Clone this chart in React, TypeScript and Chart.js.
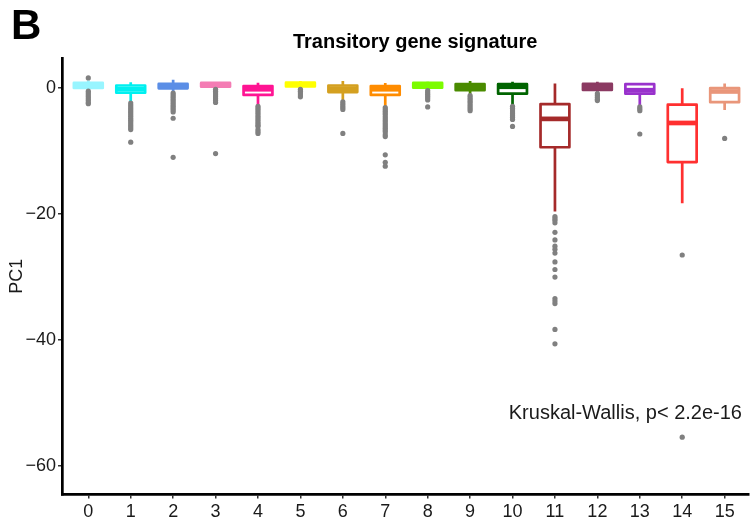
import React, { useEffect, useRef } from 'react';
import { Chart, registerables } from 'chart.js';

Chart.register(...registerables);

// ---------- data ----------
const categories = ['0', '1', '2', '3', '4', '5', '6', '7', '8', '9', '10', '11', '12', '13', '14', '15'];

const boxColors = [
  '#98F5FF', '#00F0F0', '#5B8EE6', '#F47CB4', '#FF1493', '#FFFF00', '#D4A020', '#FF8C00',
  '#7CFC00', '#4A8B00', '#006400', '#A52A2A', '#8B3A62', '#9932CC', '#FF3030', '#E9967A',
];

const whiskerHigh = [1.2, 0.9, 1.3, 0.95, 0.85, 1.1, 1.1, 0.8, 1.0, 1.1, 1.0, 0.7, 1.0, 0.8, -0.05, 0.7];
const q3 = [0.8, 0.4, 0.65, 0.8, 0.3, 0.85, 0.4, 0.3, 0.8, 0.6, 0.6, -2.55, 0.65, 0.6, -2.65, 0.0];
const medians = [0.4, -0.2, 0.3, 0.5, -0.2, 0.55, -0.1, -0.2, 0.45, 0.2, 0.2, -4.9, 0.2, -0.35, -5.55, -0.55];
const q1 = [0.0, -0.75, -0.05, 0.2, -1.1, 0.25, -0.65, -1.1, 0.05, -0.35, -0.9, -9.4, -0.3, -0.9, -11.75, -2.25];
const whiskerLow = [-0.3, -2.2, -0.6, 0.0, -2.7, 0.0, -2.0, -2.9, -0.2, -1.0, -2.7, -19.6, -0.7, -2.9, -18.3, -3.5];

const outliers: number[][] = [
  [1.6, -0.5, -0.8, -1.1, -1.4, -1.7, -2.0, -2.3, -2.5],
  [-2.4, -2.7, -3.0, -3.3, -3.6, -3.9, -4.2, -4.5, -4.8, -5.1, -5.4, -5.7, -6.0, -6.3, -6.6, -8.6],
  [-0.8, -1.1, -1.4, -1.7, -2.0, -2.3, -2.6, -2.9, -3.2, -3.5, -3.8, -4.8, -11.0],
  [-0.2, -0.5, -0.8, -1.1, -1.4, -1.7, -2.0, -2.3, -10.4],
  [-2.9, -3.2, -3.5, -3.8, -4.1, -4.4, -4.7, -5.0, -5.3, -5.6, -5.9, -6.1, -6.6, -6.9, -7.2],
  [-0.2, -0.5, -0.8, -1.1, -1.4],
  [-2.2, -2.5, -2.8, -3.1, -3.4, -7.2],
  [-3.1, -3.4, -3.7, -4.0, -4.3, -4.6, -4.9, -5.2, -5.5, -5.8, -6.1, -6.4, -6.7, -7.0, -7.4, -7.7, -10.6, -11.8, -12.4],
  [-0.4, -0.7, -1.0, -1.3, -1.6, -1.9, -3.0],
  [-1.2, -1.5, -1.8, -2.1, -2.4, -2.7, -3.0, -3.3, -3.6],
  [-2.9, -3.2, -3.5, -3.8, -4.1, -4.4, -4.7, -5.0, -6.1],
  [-20.4, -20.7, -21.0, -21.4, -22.9, -24.1, -25.1, -25.6, -26.2, -27.6, -28.8, -30.0, -33.4, -33.8, -34.2, -38.3, -40.6],
  [-0.9, -1.2, -1.5, -1.8, -2.0],
  [-3.0, -3.3, -3.6, -7.3],
  [-26.5, -55.4],
  [-8.0],
];

const yTickValues = [-60, -40, -20, 0];
const chartTitle = 'Transitory gene signature';
const panelLabel = 'B';
const yAxisTitle = 'PC1';
const testLabel = 'Kruskal-Wallis, p< 2.2e-16';
const testLabelAt = { x: 12.66, y: -51.6 };

// ---------- styling ----------
const FONT = "'Liberation Sans', Arial, Helvetica, sans-serif";
const BOX_HALF = 0.34;
const AXIS_COLOR = '#000000';
const TEXT_COLOR = '#1a1a1a';
const OUTLIER_COLOR = '#808080';

const boxPlugin = {
  id: 'boxplots',
  beforeDatasetsDraw(chart: any) {
    const { ctx, scales } = chart;
    const x = scales.x;
    const y = scales.y;
    ctx.save();
    categories.forEach((_, i) => {
      const col = boxColors[i];
      const xc = x.getPixelForValue(i);
      const hw = x.getPixelForValue(i + BOX_HALF) - xc;
      const yHi = y.getPixelForValue(whiskerHigh[i]);
      const yQ3 = y.getPixelForValue(q3[i]);
      const yMed = y.getPixelForValue(medians[i]);
      const yQ1 = y.getPixelForValue(q1[i]);
      const yLo = y.getPixelForValue(whiskerLow[i]);
      ctx.strokeStyle = col;
      ctx.lineCap = 'butt';
      ctx.lineJoin = 'round';
      // whiskers
      ctx.lineWidth = 2.7;
      ctx.beginPath();
      ctx.moveTo(xc, yHi);
      ctx.lineTo(xc, yQ3);
      ctx.moveTo(xc, yQ1);
      ctx.lineTo(xc, yLo);
      ctx.stroke();
      // box
      ctx.fillStyle = '#ffffff';
      ctx.fillRect(xc - hw, yQ3, 2 * hw, yQ1 - yQ3);
      ctx.strokeRect(xc - hw, yQ3, 2 * hw, yQ1 - yQ3);
      // median
      ctx.lineWidth = 4.7;
      ctx.beginPath();
      ctx.moveTo(xc - hw, yMed);
      ctx.lineTo(xc + hw, yMed);
      ctx.stroke();
    });
    ctx.restore();
  },
};

const textPlugin = {
  id: 'texts',
  afterDraw(chart: any) {
    const { ctx, chartArea, scales } = chart;
    ctx.save();
    ctx.fillStyle = '#000000';
    ctx.textAlign = 'left';
    ctx.textBaseline = 'alphabetic';
    ctx.font = `bold 42px ${FONT}`;
    ctx.fillText(panelLabel, 11, 39);

    ctx.textAlign = 'center';
    ctx.textBaseline = 'middle';
    ctx.font = `bold 20px ${FONT}`;
    ctx.fillText(chartTitle, (chartArea.left + chartArea.right) / 2 + 10, 42);

    ctx.fillStyle = TEXT_COLOR;
    ctx.font = `20px ${FONT}`;
    ctx.fillText(testLabel, scales.x.getPixelForValue(testLabelAt.x), scales.y.getPixelForValue(testLabelAt.y));

    ctx.save();
    ctx.translate(17, (chartArea.top + chartArea.bottom) / 2);
    ctx.rotate(-Math.PI / 2);
    ctx.font = `18px ${FONT}`;
    ctx.fillText(yAxisTitle, 0, 0);
    ctx.restore();
    ctx.restore();
  },
};

export default function App() {
  const canvasRef = useRef<HTMLCanvasElement | null>(null);

  useEffect(() => {
    if (!canvasRef.current) return;
    const points = outliers.flatMap((vals, i) => vals.map((v) => ({ x: i, y: v })));
    const chart = new Chart(canvasRef.current, {
      type: 'scatter',
      data: {
        datasets: [
          {
            label: 'outliers',
            data: points,
            pointRadius: 2.6,
            pointHoverRadius: 2.6,
            pointBorderWidth: 0,
            backgroundColor: OUTLIER_COLOR,
            borderColor: OUTLIER_COLOR,
          },
        ],
      },
      options: {
        animation: false,
        responsive: false,
        devicePixelRatio: 1,
        events: [],
        layout: { padding: { top: 58, left: 0, right: 0, bottom: 0 } },
        plugins: {
          legend: { display: false },
          title: { display: false },
          tooltip: { enabled: false },
        },
        scales: {
          x: {
            type: 'linear',
            min: -0.62,
            max: 15.56,
            afterFit: (s: any) => {
              s.height = 28.5;
            },
            afterBuildTicks: (s: any) => {
              s.ticks = categories.map((_, i) => ({ value: i }));
            },
            ticks: {
              callback: (v: any) => categories[Number(v)] ?? '',
              font: { family: FONT, size: 18 },
              color: TEXT_COLOR,
              padding: 3,
              maxRotation: 0,
              autoSkip: false,
            },
            grid: {
              display: true,
              drawOnChartArea: false,
              drawTicks: true,
              tickLength: 4,
              color: '#333333',
              lineWidth: 1.5,
            },
            border: { display: true, color: AXIS_COLOR, width: 2.7 },
          },
          y: {
            type: 'linear',
            min: -64.5,
            max: 4.76,
            afterFit: (s: any) => {
              s.width = 62;
            },
            afterBuildTicks: (s: any) => {
              s.ticks = yTickValues.map((v) => ({ value: v }));
            },
            ticks: {
              callback: (v: any) => String(v).replace('-', '\u2212'),
              font: { family: FONT, size: 18 },
              color: TEXT_COLOR,
              padding: 2,
              autoSkip: false,
            },
            grid: {
              display: true,
              drawOnChartArea: false,
              drawTicks: true,
              tickLength: 4,
              color: '#333333',
              lineWidth: 1.5,
            },
            border: { display: true, color: AXIS_COLOR, width: 2.7 },
          },
        },
      },
      plugins: [boxPlugin, textPlugin],
    });
    return () => chart.destroy();
  }, []);

  return (
    <div style={{ position: 'absolute', left: 0, top: 0, width: 751, height: 523, background: '#ffffff' }}>
      <canvas ref={canvasRef} width={751} height={523} style={{ display: 'block' }} />
    </div>
  );
}
